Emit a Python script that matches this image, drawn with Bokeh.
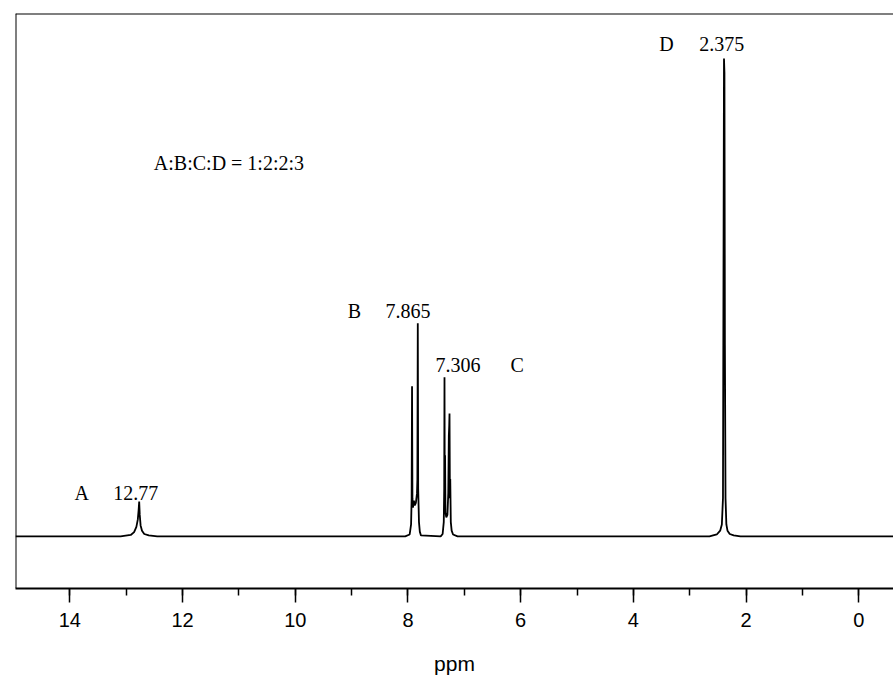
from bokeh.plotting import figure
from bokeh.models import Range1d, SingleIntervalTicker, Span
from bokeh.core.properties import value
from bokeh.embed import file_html
from bokeh.resources import INLINE

# ---- spectrum trace (ppm, relative intensity; tallest = 100) ----
ppm = [14.965, 13.10, 12.92, 12.86, 12.82, 12.795, 12.78, 12.77, 12.76, 12.745, 12.72, 12.68, 12.60, 12.45,
       8.05, 7.97, 7.945, 7.935, 7.928, 7.921, 7.912, 7.895, 7.88, 7.86, 7.84, 7.833, 7.826, 7.819, 7.805, 7.79, 7.77,
       7.42, 7.385, 7.365, 7.357, 7.352, 7.347, 7.342, 7.335, 7.32, 7.30, 7.285, 7.275, 7.268, 7.263, 7.256, 7.25, 7.24, 7.225, 7.20, 7.12,
       2.65, 2.52, 2.46, 2.43, 2.41, 2.40, 2.392, 2.384, 2.376, 2.365, 2.35, 2.33, 2.29, 2.22, 2.10, -0.616]
intensity = [0.0, 0.0, 0.3, 0.9, 2.0, 3.5, 5.5, 7.3, 4.5, 2.3, 1.2, 0.5, 0.2, 0.0,
             0.0, 0.4, 2.5, 8.0, 31.4, 8.0, 6.0, 7.5, 6.5, 7.0, 9.0, 12.0, 44.6, 10.0, 3.0, 1.0, 0.2,
             0.0, 0.5, 3.0, 10.0, 33.3, 6.0, 17.0, 5.0, 4.0, 4.5, 9.0, 21.0, 23.2, 25.7, 8.0, 12.0, 3.0, 1.2, 0.4, 0.0,
             0.0, 0.4, 1.2, 2.5, 8.0, 60.0, 100.0, 97.0, 40.0, 8.0, 2.5, 1.2, 0.5, 0.2, 0.0, 0.0]

# ---- axis ----
x_start, x_end = 14.965, -0.616
y_start, y_end = -10.9, 109.4
tick_interval = 2

# ---- annotations ----
ratio_text = "A:B:C:D = 1:2:2:3"
peak_letters = ["A", "B", "C", "D"]
peak_shifts = ["12.77", "7.865", "7.306", "2.375"]

p = figure(width=893, height=677, x_range=Range1d(x_start, x_end), y_range=Range1d(y_start, y_end),
           output_backend="svg", toolbar_location=None, y_axis_location=None,
           min_border_left=15, min_border_right=0, min_border_top=13, min_border_bottom=89)
p.outline_line_color = None
p.grid.visible = False
p.background_fill_color = "white"
p.border_fill_color = "white"

p.add_layout(Span(location=x_start, dimension="height", line_color="black", line_width=2))
p.add_layout(Span(location=y_end, dimension="width", line_color="black", line_width=2))

p.line(ppm, intensity, line_color="black", line_width=1.8)

serif = value("Liberation Serif")
fs = value("20px")
p.text(x=[12.51], y=[78.2], text=[ratio_text], text_font=serif, text_font_size=fs,
       text_color="black", text_align="left", text_baseline="alphabetic")
p.text(x=[13.92, 9.07, 6.18, 3.54], y=[9.0, 47.1, 35.8, 103.1], text=peak_letters, text_font=serif,
       text_font_size=fs, text_color="black", text_align="left", text_baseline="alphabetic")
p.text(x=[13.23, 8.40, 7.51, 2.83], y=[9.0, 47.1, 35.8, 103.1], text=peak_shifts, text_font=serif,
       text_font_size=fs, text_color="black", text_align="left", text_baseline="alphabetic")

ax = p.xaxis[0]
ax.ticker = SingleIntervalTicker(interval=tick_interval, num_minor_ticks=2)
ax.axis_line_color = "black"
ax.axis_line_width = 2
ax.major_tick_line_color = "black"
ax.major_tick_line_width = 1.5
ax.minor_tick_line_color = "black"
ax.minor_tick_line_width = 1.5
ax.major_tick_out = 14
ax.major_tick_in = 0
ax.minor_tick_out = 7
ax.minor_tick_in = 0
ax.major_label_text_font = "Liberation Sans"
ax.major_label_text_font_size = "20px"
ax.major_label_text_color = "black"
ax.major_label_standoff = 10
ax.axis_label = "ppm"
ax.axis_label_text_font = "Liberation Sans"
ax.axis_label_text_font_size = "21px"
ax.axis_label_text_font_style = "normal"
ax.axis_label_text_color = "black"
ax.axis_label_standoff = 22

open("out.html", "w").write(file_html(p, INLINE))
